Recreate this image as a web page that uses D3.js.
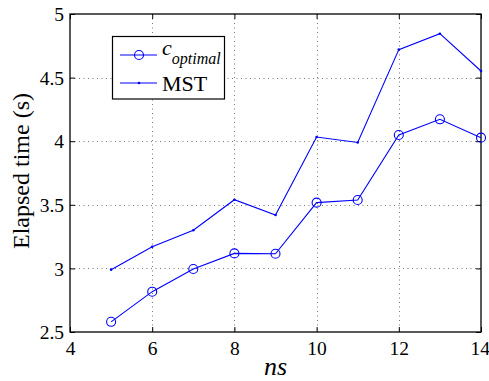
<!DOCTYPE html>
<html>
<head>
<meta charset="utf-8">
<script src="https://cdn.jsdelivr.net/npm/d3@7"></script>
<style>
  html, body { margin: 0; padding: 0; background: #fff; }
  svg { display: block; }
</style>
</head>
<body>
<svg id="chart" width="489" height="381"></svg>
<script>
// Elapsed time vs. number of samples (ns)
const ns = [5, 6, 7, 8, 9, 10, 11, 12, 13, 14];
const cOptimal = [2.58, 2.817, 2.995, 3.118, 3.115, 3.517, 3.538, 4.049, 4.172, 4.028];
const mst = [2.99, 3.17, 3.30, 3.54, 3.42, 4.033, 3.99, 4.72, 4.845, 4.552];
const xTicks = [4, 6, 8, 10, 12, 14];
const yTicks = [2.5, 3, 3.5, 4, 4.5, 5];

const serif = "Liberation Serif";
const svg = d3.select("#chart").attr("font-family", serif);
const m = { left: 70, top: 14, right: 481, bottom: 332 };

const x = d3.scaleLinear().domain([4, 14]).range([m.left, m.right]);
const y = d3.scaleLinear().domain([2.5, 5]).range([m.bottom, m.top]);

const blue = "#0000ff";

// dotted grid
const grid = svg.append("g").attr("stroke", "#777").attr("stroke-width", 1)
  .attr("stroke-dasharray", "1,3.5");
grid.selectAll("line.gx").data(xTicks.slice(1, -1)).join("line")
  .attr("x1", d => Math.round(x(d)) + 0.5).attr("x2", d => Math.round(x(d)) + 0.5)
  .attr("y1", m.top).attr("y2", m.bottom);
grid.selectAll("line.gy").data(yTicks.slice(1, -1)).join("line")
  .attr("y1", d => Math.round(y(d)) + 0.5).attr("y2", d => Math.round(y(d)) + 0.5)
  .attr("x1", m.left).attr("x2", m.right);

// axes with inward ticks, mirrored on the opposite sides
const tickLen = 5;
const xb = svg.append("g").attr("transform", `translate(0,${m.bottom})`)
  .call(d3.axisBottom(x).tickValues(xTicks).tickSizeInner(-tickLen).tickSizeOuter(0).tickPadding(9).tickFormat(d3.format("d")));
const xt = svg.append("g").attr("transform", `translate(0,${m.top})`)
  .call(d3.axisTop(x).tickValues(xTicks).tickSizeInner(-tickLen).tickSizeOuter(0).tickFormat(""));
const yl = svg.append("g").attr("transform", `translate(${m.left},0)`)
  .call(d3.axisLeft(y).tickValues(yTicks).tickSizeInner(-tickLen).tickSizeOuter(0).tickPadding(6).tickFormat(d => String(d)));
const yr = svg.append("g").attr("transform", `translate(${m.right},0)`)
  .call(d3.axisRight(y).tickValues(yTicks).tickSizeInner(-tickLen).tickSizeOuter(0).tickFormat(""));

[xb, xt, yl, yr].forEach(g => {
  g.attr("font-family", serif).attr("font-size", 19.5);
  g.select(".domain").remove();
  g.selectAll(".tick line").attr("stroke", "#000");
  g.selectAll("text").attr("fill", "#000");
});
yl.selectAll("text").attr("dy", "0.34em");
// keep the last x label inside the canvas
xb.selectAll(".tick text").filter(d => d === 14).attr("text-anchor", "end").attr("dx", 8.5);

// plot box
svg.append("rect")
  .attr("x", m.left).attr("y", m.top)
  .attr("width", m.right - m.left).attr("height", m.bottom - m.top)
  .attr("fill", "none").attr("stroke", "#000").attr("stroke-width", 1.3);

// series
const line = d3.line().x((d, i) => x(ns[i])).y(d => y(d));

svg.append("path").datum(mst).attr("d", line)
  .attr("fill", "none").attr("stroke", blue).attr("stroke-width", 1.1);
svg.append("g").selectAll("circle").data(mst).join("circle")
  .attr("cx", (d, i) => x(ns[i])).attr("cy", d => y(d)).attr("r", 1.3).attr("fill", blue);

svg.append("path").datum(cOptimal).attr("d", line)
  .attr("fill", "none").attr("stroke", blue).attr("stroke-width", 1.1);
svg.append("g").selectAll("circle").data(cOptimal).join("circle")
  .attr("cx", (d, i) => x(ns[i])).attr("cy", d => y(d)).attr("r", 4.5)
  .attr("fill", "none").attr("stroke", blue).attr("stroke-width", 1.1);

// axis labels
svg.append("text")
  .attr("x", (m.left + m.right) / 2).attr("y", 375)
  .attr("text-anchor", "middle").attr("font-size", 26).attr("font-style", "italic")
  .text("ns");
svg.append("text")
  .attr("transform", `translate(29,171) rotate(-90)`)
  .attr("text-anchor", "middle").attr("font-size", 24)
  .text("Elapsed time (s)");

// legend
const lg = svg.append("g");
lg.append("rect").attr("x", 112.5).attr("y", 36.5).attr("width", 112).attr("height", 62.5)
  .attr("fill", "#fff").attr("stroke", "#000").attr("stroke-width", 1.2);
lg.append("line").attr("x1", 120).attr("x2", 157).attr("y1", 55).attr("y2", 55)
  .attr("stroke", blue).attr("stroke-width", 1.1);
lg.append("circle").attr("cx", 139).attr("cy", 55).attr("r", 4.5)
  .attr("fill", "none").attr("stroke", blue).attr("stroke-width", 1.1);
const t1 = lg.append("text").attr("x", 162).attr("y", 55).attr("font-size", 22).attr("font-style", "italic");
t1.append("tspan").text("c");
t1.append("tspan").attr("dy", 9).attr("font-size", 16).text("optimal");
lg.append("line").attr("x1", 120).attr("x2", 157).attr("y1", 83).attr("y2", 83)
  .attr("stroke", blue).attr("stroke-width", 1.1);
lg.append("circle").attr("cx", 139).attr("cy", 83).attr("r", 1.3).attr("fill", blue);
lg.append("text").attr("x", 162).attr("y", 91).attr("font-size", 22).text("MST");
</script>
</body>
</html>
